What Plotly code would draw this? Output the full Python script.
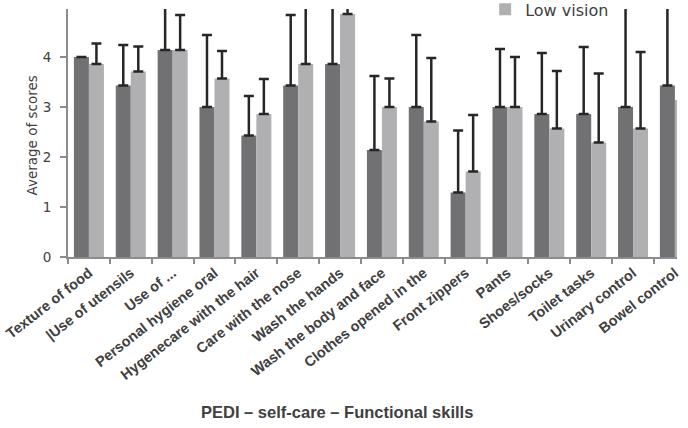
import plotly.graph_objects as go

# PEDI self-care functional skills: mean scores with SD (upper error bars)
categories = [
    "Texture of food", "|Use of utensils", "Use of ...", "Personal hygiene oral",
    "Hygenecare with the hair", "Care with the nose", "Wash the hands",
    "Wash the body and face", "Clothes opened in the", "Front zippers", "Pants",
    "Shoes/socks", "Toilet tasks", "Urinary control", "Bowel control",
]
blind_mean = [4.00, 3.43, 4.14, 3.00, 2.43, 3.43, 3.86, 2.14, 3.00, 1.29, 3.00, 2.86, 2.86, 3.00, 3.43]
blind_sd = [0.00, 0.81, 1.20, 1.44, 0.79, 1.41, 1.30, 1.48, 1.44, 1.24, 1.16, 1.22, 1.34, 2.30, 2.00]
low_mean = [3.86, 3.71, 4.14, 3.57, 2.86, 3.86, 4.86, 3.00, 2.71, 1.71, 3.00, 2.57, 2.29, 2.57, 3.14]
low_sd = [0.41, 0.50, 0.70, 0.55, 0.70, 1.40, 0.30, 0.57, 1.27, 1.13, 1.00, 1.15, 1.38, 1.53, 1.00]
y_ticks = [0, 1, 2, 3, 4, 5]

DARK = "#717173"
LIGHT = "#b0b0b2"
ERR = "#262626"
AXIS = "#8c8c8c"
TEXT = "#404040"


def err(values):
    return dict(type="data", array=values, arrayminus=[0] * len(values),
                symmetric=False, color=ERR, thickness=2.5, width=5)


fig = go.Figure()
fig.add_trace(go.Bar(name="Blindness", x=categories, y=blind_mean, showlegend=False,
                     marker=dict(color=DARK, line=dict(width=0)),
                     error_y=err(blind_sd)))
fig.add_trace(go.Bar(name="Low vision", x=categories, y=low_mean, showlegend=True,
                     marker=dict(color=LIGHT, line=dict(width=0)),
                     error_y=err(low_sd)))

fig.update_layout(
    width=688, height=428,
    margin=dict(l=68, r=11, t=9, b=171, autoexpand=False),
    paper_bgcolor="white", plot_bgcolor="white",
    barmode="group", bargap=0.283, bargroupgap=0,
    showlegend=True,
    legend=dict(orientation="v", x=0.685, xanchor="left", y=0.93, yanchor="bottom",
                font=dict(family="DejaVu Sans", size=16, color=TEXT),
                bgcolor="rgba(0,0,0,0)"),
    xaxis=dict(
        type="category", range=[-0.5, 14.05], automargin=False,
        showline=True, linecolor=AXIS, linewidth=2,
        ticks="outside", tickson="boundaries", ticklen=5, tickcolor=AXIS, tickwidth=2,
        tickangle=-38, showgrid=False,
        tickfont=dict(family="Liberation Sans, Arial", size=14.5, color=TEXT, weight="bold"),
    ),
    yaxis=dict(
        range=[0, 4.96], automargin=False, tickvals=y_ticks,
        showline=True, linecolor=AXIS, linewidth=2,
        ticks="outside", ticklen=6, tickcolor=AXIS, tickwidth=2,
        showgrid=False, zeroline=False, ticklabelstandoff=6,
        tickfont=dict(family="DejaVu Sans", size=13.5, color=TEXT),
    ),
    annotations=[
        dict(text="Average of scores", xref="paper", yref="paper",
             x=-0.059, y=0.49, xanchor="center", yanchor="middle", textangle=-90,
             showarrow=False, font=dict(family="DejaVu Sans", size=13.5, color=TEXT)),
        dict(text="PEDI \u2013 self-care \u2013 Functional skills", xref="paper", yref="paper",
             x=0.4425, y=-0.625, xanchor="center", yanchor="middle",
             showarrow=False,
             font=dict(family="Liberation Sans, Arial", size=16.5, color=TEXT, weight="bold")),
    ],
)

fig.write_html("out.html")
